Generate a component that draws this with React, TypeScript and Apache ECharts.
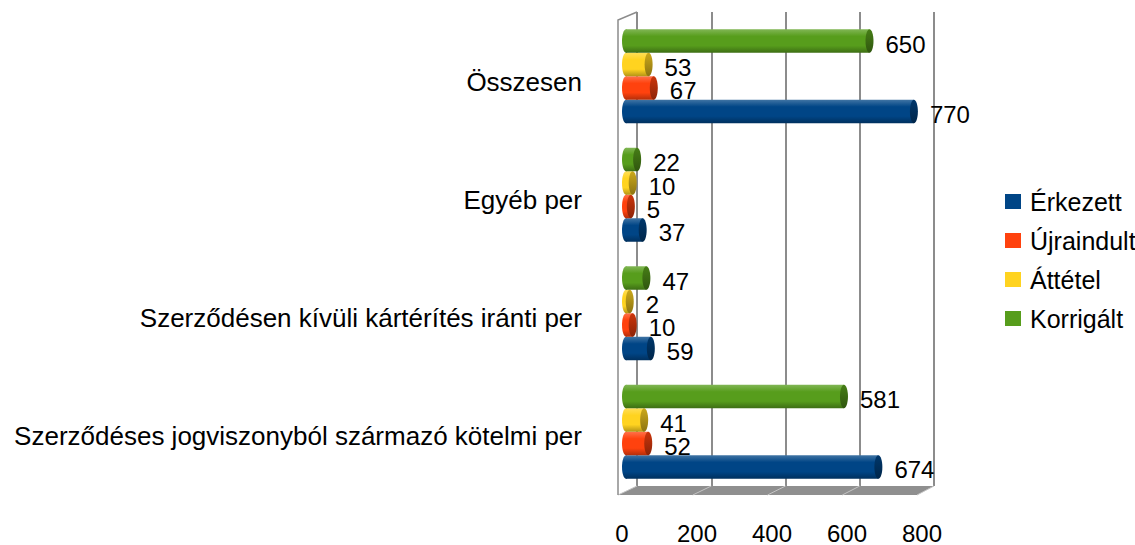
import React, { useEffect, useRef } from "react";
import * as echarts from "echarts";

const categories = [
  "Szerződéses jogviszonyból származó kötelmi per",
  "Szerződésen kívüli kártérítés iránti per",
  "Egyéb per",
  "Összesen",
];
const seriesNames = ["Érkezett", "Újraindult", "Áttétel", "Korrigált"];
const erkezett = [674, 59, 37, 770];
const ujraindult = [52, 10, 5, 67];
const attetel = [41, 2, 10, 53];
const korrigalt = [581, 47, 22, 650];
const xTicks = [0, 200, 400, 600, 800];
const colors = ["#004586", "#ff420e", "#ffd320", "#579d1c"];

const FONT = "'Liberation Sans', Arial, sans-serif";
const DEPTH = 11;
const CAP_RX = 4;
const BAR_FRACTION = 0.1983;
const LABEL_GAP = 12;
const LABEL_DY = 3;

// 3D frame geometry
const BACK_LEFT = 637;
const BACK_W = 297;
const BACK_TOP = 12;
const BACK_BOTTOM = 486;
const FRONT_LEFT = 618;
const FRONT_W = 299;
const FRONT_TOP = 20;
const FRONT_BOTTOM = 495;

function mix(hex: string, target: number, t: number): string {
  const n = parseInt(hex.slice(1), 16);
  const r = (n >> 16) & 255;
  const g = (n >> 8) & 255;
  const b = n & 255;
  const f = (c: number) => Math.round(c + (target - c) * t);
  return `rgb(${f(r)},${f(g)},${f(b)})`;
}

function makeRender(k: number, color: string) {
  return (params: any, api: any) => {
    const v = api.value(0);
    const cat = api.value(1);
    const p0 = api.coord([0, cat]);
    const p1 = api.coord([v, cat]);
    const band = api.size([0, 1])[1];
    const h = band * BAR_FRACTION;
    const yc = p0[1] + (1.5 - k) * h;
    const x0 = p0[0] - DEPTH;
    const x1 = p1[0];
    const rx = Math.min(CAP_RX, (x1 - x0) / 2);
    const body = {
      type: "linear",
      x: 0,
      y: 0,
      x2: 0,
      y2: 1,
      colorStops: [
        { offset: 0, color: mix(color, 255, 0.25) },
        { offset: 0.3, color: color },
        { offset: 0.7, color: color },
        { offset: 1, color: mix(color, 0, 0.3) },
      ],
    };
    const cap = {
      type: "linear",
      x: 0,
      y: 0,
      x2: 0,
      y2: 1,
      colorStops: [
        { offset: 0, color: mix(color, 0, 0.2) },
        { offset: 1, color: mix(color, 0, 0.45) },
      ],
    };
    return {
      type: "group",
      children: [
        {
          type: "ellipse",
          shape: { cx: x0 + rx, cy: yc, rx: rx, ry: h / 2 },
          style: { fill: body },
        },
        {
          type: "rect",
          shape: {
            x: x0 + rx,
            y: yc - h / 2,
            width: Math.max(0, x1 - x0 - 2 * rx),
            height: h,
          },
          style: { fill: body },
        },
        {
          type: "ellipse",
          shape: { cx: x1 - rx, cy: yc, rx: rx, ry: h / 2 },
          style: { fill: cap },
        },
        {
          type: "text",
          x: x1 + LABEL_GAP,
          y: yc + LABEL_DY,
          z2: 10,
          style: {
            text: String(v),
            fill: "#000",
            fontSize: 24,
            lineHeight: 19,
            fontFamily: FONT,
            align: "left",
            verticalAlign: "middle",
          },
        },
      ],
    };
  };
}

export default function App() {
  const ref = useRef<HTMLDivElement>(null);
  useEffect(() => {
    if (!ref.current) return;
    const chart = echarts.init(ref.current, undefined, { renderer: "svg" });
    const allSeries = [erkezett, ujraindult, attetel, korrigalt];
    const xMin = xTicks[0];
    const xMax = xTicks[xTicks.length - 1];
    const interval = xTicks[1] - xTicks[0];
    const graphic: any[] = [
      {
        type: "polygon",
        z: 1,
        shape: {
          points: [
            [BACK_LEFT, BACK_BOTTOM],
            [BACK_LEFT + BACK_W, BACK_BOTTOM],
            [FRONT_LEFT + FRONT_W, FRONT_BOTTOM],
            [FRONT_LEFT, FRONT_BOTTOM],
          ],
        },
        style: { fill: "#8f8f8f" },
      },
      ...xTicks.map((t) => ({
        type: "line",
        z: 1,
        shape: {
          x1: BACK_LEFT + ((t - xMin) / (xMax - xMin)) * BACK_W,
          y1: BACK_BOTTOM,
          x2: FRONT_LEFT + ((t - xMin) / (xMax - xMin)) * FRONT_W,
          y2: FRONT_BOTTOM,
        },
        style: { stroke: "#c4c4c4", lineWidth: 1 },
      })),
      {
        type: "polyline",
        z: 1,
        shape: {
          points: [
            [BACK_LEFT, BACK_TOP],
            [FRONT_LEFT, FRONT_TOP],
            [FRONT_LEFT, FRONT_BOTTOM],
          ],
        },
        style: { stroke: "#8c8c8c", lineWidth: 1.5, fill: null },
      },
    ];
    chart.setOption({
      animation: false,
      backgroundColor: "#ffffff",
      textStyle: { fontFamily: FONT },
      grid: [
        { left: BACK_LEFT, width: BACK_W, top: BACK_TOP, height: BACK_BOTTOM - BACK_TOP },
        { left: 633, width: 296, top: 17, height: 474 },
        { left: 622, width: 300, top: 23, height: 474 },
      ],
      xAxis: [
        {
          gridIndex: 0,
          type: "value",
          min: xMin,
          max: xMax,
          interval: interval,
          axisLabel: { show: false },
          axisLine: { show: false },
          axisTick: { show: false },
          splitLine: { show: true, lineStyle: { color: "#8c8c8c", width: 2 } },
        },
        { gridIndex: 1, type: "value", min: xMin, max: xMax, show: false },
        {
          gridIndex: 2,
          type: "value",
          min: xMin,
          max: xMax,
          interval: interval,
          axisLine: { show: false },
          axisTick: { show: false },
          splitLine: { show: false },
          axisLabel: { fontSize: 24, color: "#000", margin: 26, fontFamily: FONT },
        },
      ],
      yAxis: [
        { gridIndex: 0, type: "category", data: categories, show: false },
        { gridIndex: 1, type: "category", data: categories, show: false },
        {
          gridIndex: 2,
          type: "category",
          data: categories,
          axisLine: { show: false },
          axisTick: { show: false },
          splitLine: { show: false },
          axisLabel: { fontSize: 26, color: "#000", margin: 40, fontFamily: FONT },
        },
      ],
      legend: {
        orient: "vertical",
        left: 1000,
        top: 184,
        itemWidth: 16,
        itemHeight: 15,
        itemGap: 14,
        icon: "rect",
        data: seriesNames,
        textStyle: {
          fontSize: 25,
          lineHeight: 25,
          color: "#000",
          fontFamily: FONT,
          padding: [0, 0, 0, 4],
        },
      },
      graphic: graphic,
      series: allSeries.map((vals, k) => ({
        type: "custom",
        name: seriesNames[k],
        coordinateSystem: "cartesian2d",
        xAxisIndex: 1,
        yAxisIndex: 1,
        z: 3,
        clip: false,
        itemStyle: { color: colors[k] },
        encode: { x: 0, y: 1 },
        data: vals.map((v, i) => [v, i]),
        renderItem: makeRender(k, colors[k]),
      })),
    });
    return () => chart.dispose();
  }, []);
  return (
    <div
      ref={ref}
      style={{ position: "fixed", left: 0, top: 0, width: 1135, height: 545, background: "#fff" }}
    />
  );
}
